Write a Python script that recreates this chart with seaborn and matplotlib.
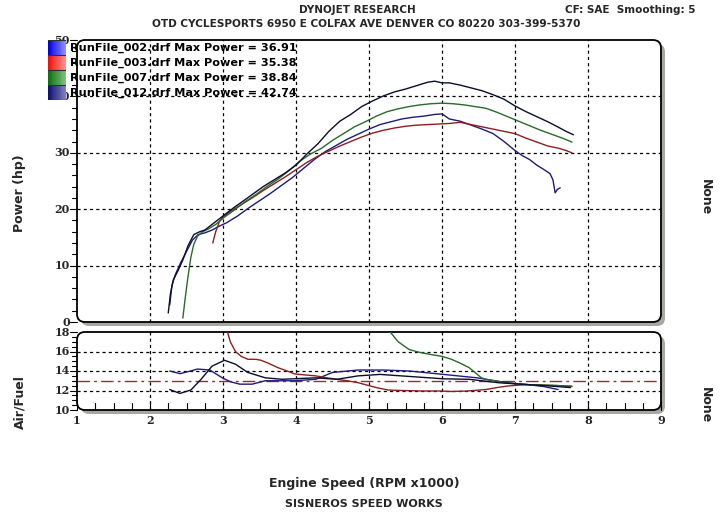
import numpy as np
import pandas as pd
import matplotlib
matplotlib.use("Agg")
import matplotlib.pyplot as plt
import seaborn as sns
from matplotlib.patches import FancyBboxPatch

# ---------------- data ----------------
run_names = ["RunFile_002.drf", "RunFile_003.drf", "RunFile_007.drf", "RunFile_012.drf"]
max_power = [36.91, 35.38, 38.84, 42.74]

rpm_002 = [2.27, 2.30, 2.35, 2.42, 2.50, 2.58, 2.66, 2.75, 2.85, 2.95, 3.05, 3.20, 3.35, 3.50,
           3.65, 3.80, 3.95, 4.10, 4.25, 4.40, 4.55, 4.70, 4.85, 5.00, 5.15, 5.30, 5.45, 5.60,
           5.75, 5.90, 6.00, 6.10, 6.25, 6.40, 6.55, 6.70, 6.85, 7.00, 7.10, 7.20, 7.30, 7.40,
           7.48, 7.52, 7.55, 7.58, 7.62]
hp_002 = [3.0, 6.5, 8.5, 10.5, 12.5, 14.5, 15.5, 15.8, 16.3, 17.0, 17.6, 18.8, 20.2, 21.5,
          22.8, 24.2, 25.6, 27.2, 28.8, 30.2, 31.3, 32.4, 33.3, 34.2, 35.0, 35.5, 36.0, 36.3,
          36.5, 36.8, 36.9, 36.0, 35.6, 34.9, 34.2, 33.4, 32.0, 30.4, 29.5, 28.8, 27.8, 27.0,
          26.3, 25.2, 22.9, 23.5, 23.8]

rpm_003 = [2.86, 2.90, 2.95, 3.00, 3.10, 3.25, 3.40, 3.55, 3.70, 3.85, 4.00, 4.15, 4.30, 4.45,
           4.60, 4.75, 4.90, 5.05, 5.20, 5.35, 5.50, 5.65, 5.80, 5.95, 6.10, 6.25, 6.40, 6.55,
           6.70, 6.85, 7.00, 7.15, 7.30, 7.45, 7.60, 7.70, 7.78]
hp_003 = [14.0, 16.0, 17.8, 18.6, 19.6, 20.8, 22.0, 23.3, 24.5, 25.7, 27.0, 28.3, 29.4, 30.3,
          31.2, 32.0, 32.8, 33.5, 34.0, 34.4, 34.7, 34.9, 35.0, 35.1, 35.2, 35.4, 35.0, 34.6,
          34.2, 33.8, 33.4, 32.6, 31.9, 31.2, 30.8, 30.4, 30.0]

rpm_007 = [2.45, 2.48, 2.52, 2.56, 2.60, 2.65, 2.72, 2.80, 2.90, 3.00, 3.15, 3.30, 3.45, 3.60,
           3.75, 3.90, 4.05, 4.20, 4.35, 4.50, 4.65, 4.80, 4.95, 5.10, 5.25, 5.40, 5.55, 5.70,
           5.85, 6.00, 6.15, 6.30, 6.45, 6.60, 6.75, 6.90, 7.05, 7.20, 7.35, 7.50, 7.65, 7.78]
hp_007 = [0.7, 4.0, 8.0, 11.5, 13.8, 15.2, 16.0, 16.5, 17.3, 18.4, 19.8, 21.3, 22.6, 24.0,
          25.3, 26.8, 28.5, 29.8, 30.8, 32.2, 33.4, 34.6, 35.5, 36.5, 37.3, 37.8, 38.2, 38.5,
          38.7, 38.8, 38.7, 38.5, 38.2, 37.9, 37.2, 36.4, 35.6, 34.8, 34.0, 33.3, 32.6, 31.9]

rpm_012 = [2.25, 2.28, 2.32, 2.38, 2.45, 2.52, 2.60, 2.68, 2.75, 2.85, 2.95, 3.05, 3.15, 3.25,
           3.40, 3.55, 3.70, 3.85, 4.00, 4.15, 4.30, 4.45, 4.60, 4.75, 4.90, 5.05, 5.20, 5.35,
           5.50, 5.65, 5.80, 5.90, 6.00, 6.10, 6.25, 6.40, 6.55, 6.70, 6.85, 7.00, 7.15, 7.30,
           7.45, 7.60, 7.70, 7.80]
hp_012 = [1.6, 5.0, 7.5, 9.0, 11.0, 13.5, 15.5, 16.0, 16.3, 17.3, 18.3, 19.3, 20.3, 21.2,
          22.6, 24.0, 25.2, 26.4, 27.8, 29.8, 31.6, 33.8, 35.6, 36.8, 38.2, 39.2, 40.1, 40.8,
          41.3, 41.9, 42.5, 42.7, 42.4, 42.4, 42.0, 41.5, 41.0, 40.3, 39.5, 38.3, 37.3, 36.4,
          35.5, 34.5, 33.8, 33.2]

afr_rpm_002 = [2.27, 2.41, 2.53, 2.65, 2.82, 2.99, 3.10, 3.23, 3.40, 3.58, 3.98, 4.27, 4.50,
               4.85, 5.20, 5.55, 6.02, 6.48, 6.72, 6.95, 7.18, 7.40, 7.59]
afr_002 = [14.0, 13.73, 13.95, 14.2, 14.1, 13.3, 12.9, 12.65, 12.65, 13.0, 13.0, 13.15, 13.85,
           14.1, 14.1, 14.0, 13.65, 13.3, 13.0, 12.75, 12.6, 12.4, 12.1]

afr_rpm_003 = [2.86, 2.95, 3.05, 3.10, 3.17, 3.25, 3.34, 3.45, 3.52, 3.62, 3.75, 3.88, 3.98,
               4.12, 4.27, 4.42, 4.56, 4.70, 4.85, 5.00, 5.10, 5.26, 5.45, 5.73, 5.95, 6.13,
               6.35, 6.60, 6.75, 6.89, 7.05, 7.18, 7.40, 7.60, 7.78]
afr_003 = [24.0, 21.0, 18.3, 17.0, 16.0, 15.5, 15.2, 15.2, 15.1, 14.8, 14.35, 14.0, 13.7,
           13.6, 13.5, 13.3, 13.15, 13.0, 12.8, 12.5, 12.3, 12.05, 12.0, 11.95, 11.95, 11.9,
           11.95, 12.1, 12.3, 12.45, 12.55, 12.6, 12.55, 12.5, 12.4]

afr_rpm_007 = [2.45, 3.00, 4.00, 5.00, 5.29, 5.40, 5.55, 5.70, 5.84, 6.00, 6.13, 6.25, 6.37,
               6.46, 6.54, 6.63, 6.72, 6.85, 7.00, 7.18, 7.40, 7.60, 7.78]
afr_007 = [24.0, 23.0, 21.5, 19.5, 18.0, 17.0, 16.2, 15.9, 15.7, 15.5, 15.2, 14.8, 14.35,
           13.8, 13.3, 13.1, 13.0, 12.8, 12.7, 12.6, 12.55, 12.5, 12.45]

afr_rpm_012 = [2.27, 2.41, 2.56, 2.70, 2.85, 3.02, 3.17, 3.34, 3.58, 3.81, 4.27, 4.56, 4.85,
               5.15, 5.44, 6.02, 6.37, 6.77, 7.18, 7.50, 7.76]
afr_012 = [12.1, 11.7, 12.05, 13.15, 14.5, 15.1, 14.7, 13.85, 13.3, 13.15, 13.3, 13.15, 13.5,
           13.65, 13.5, 13.2, 13.15, 12.8, 12.6, 12.45, 12.3]

afr_target = 13.0

x_ticks = [1, 2, 3, 4, 5, 6, 7, 8, 9]
power_ticks = [0, 10, 20, 30, 40, 50]
afr_ticks = [10, 12, 14, 16, 18]

line_colors = ["#1c1c78", "#8c1f1f", "#2a6a2a", "#0c0c30"]
swatch_left = ["#0000e0", "#f01010", "#107010", "#101070"]
swatch_right = ["#9090ff", "#ff9090", "#80c080", "#8080c0"]

# ---------------- build tables ----------------
power_df = pd.concat([
    pd.DataFrame({"rpm": r, "hp": h, "run": n})
    for r, h, n in zip([rpm_002, rpm_003, rpm_007, rpm_012],
                       [hp_002, hp_003, hp_007, hp_012], run_names)
], ignore_index=True)
afr_df = pd.concat([
    pd.DataFrame({"rpm": r, "afr": a, "run": n})
    for r, a, n in zip([afr_rpm_002, afr_rpm_003, afr_rpm_007, afr_rpm_012],
                       [afr_002, afr_003, afr_007, afr_012], run_names)
], ignore_index=True)
palette = dict(zip(run_names, line_colors))

# ---------------- figure ----------------
sns.set_style("white")
plt.rcParams["font.family"] = ["DejaVu Sans"]

W, H = 727, 517
fig = plt.figure(figsize=(W / 100, H / 100), dpi=100)
fig.patch.set_facecolor("white")


def fx(px):
    return px / W


def fy(py):
    return 1 - py / H


L, R = 77, 661
T1, B1 = 40, 322
T2, B2 = 332, 410

ax1 = fig.add_axes([fx(L), fy(B1), (R - L) / W, (B1 - T1) / H])
ax2 = fig.add_axes([fx(L), fy(B2), (R - L) / W, (B2 - T2) / H])

# rounded boxes with grey shadow (in inches so corners stay round)
for (t, b) in [(T1, B1), (T2, B2)]:
    x0, y0 = L / 100, (H - b) / 100
    w, h = (R - L) / 100, (b - t) / 100
    shadow = FancyBboxPatch((x0 + 0.04, y0 - 0.04), w, h,
                            boxstyle="round,pad=0,rounding_size=0.08",
                            transform=fig.dpi_scale_trans, facecolor="#a8a8a0",
                            edgecolor="none", zorder=-3)
    box = FancyBboxPatch((x0, y0), w, h,
                         boxstyle="round,pad=0,rounding_size=0.08",
                         transform=fig.dpi_scale_trans, facecolor="white",
                         edgecolor="black", linewidth=1.3, zorder=-2)
    fig.patches.extend([shadow, box])

for ax in (ax1, ax2):
    ax.set_facecolor("none")
    for s in ax.spines.values():
        s.set_visible(False)
    ax.set_xlim(1, 9)
    ax.set_xticks(x_ticks[1:-1])
    ax.grid(True, color="black", linestyle=(0, (2.5, 2.5)), linewidth=0.9)

sns.lineplot(data=power_df, x="rpm", y="hp", hue="run", palette=palette, sort=False,
             estimator=None, linewidth=1.0, legend=False, ax=ax1)
sns.lineplot(data=afr_df, x="rpm", y="afr", hue="run", palette=palette, sort=False,
             estimator=None, linewidth=1.0, legend=False, ax=ax2)
ax2.axhline(afr_target, color="#7a3a3a", linestyle=(0, (9, 3, 2, 3)), linewidth=1.0, zorder=1)

ax1.set_ylim(0, 50)
ax1.set_yticks(power_ticks[1:-1])
ax1.set_xticklabels([])
ax1.set_yticklabels([])
ax1.tick_params(axis="both", length=0)
ax1.set_xlabel("")
ax1.set_ylabel("")

ax2.set_ylim(10, 18)
ax2.set_yticks(afr_ticks[1:-1])
ax2.set_yticklabels([])
ax2.set_xticklabels([])
ax2.tick_params(axis="both", length=0)
ax2.set_xlabel("")
ax2.set_ylabel("")

# tick labels (serif bold, like the bitmap font)
tick_font = dict(family="DejaVu Serif", weight="bold", size=8)
for v in power_ticks:
    ax1.text(-0.012, v, str(v), transform=ax1.get_yaxis_transform(), ha="right",
             va="center", clip_on=False, **tick_font)
for v in afr_ticks:
    ax2.text(-0.012, v, str(v), transform=ax2.get_yaxis_transform(), ha="right",
             va="center", clip_on=False, **tick_font)
for v in x_ticks:
    ax2.text(v, -0.07, str(v), transform=ax2.get_xaxis_transform(), ha="center",
             va="top", clip_on=False, **tick_font)

# small outward ticks on left and inward ticks on bottom
for v in np.arange(0, 50.01, 2):
    ax1.plot([-0.008 if v % 10 else -0.012, 0], [v, v], transform=ax1.get_yaxis_transform(),
             color="black", lw=0.8, clip_on=False)
for v in np.arange(10, 18.01, 0.5):
    ax2.plot([-0.008 if v % 2 else -0.012, 0], [v, v], transform=ax2.get_yaxis_transform(),
             color="black", lw=0.8, clip_on=False)
for v in np.arange(1, 9.01, 0.25):
    ax2.plot([v, v], [0, 0.09 if v % 1 else 0.12], transform=ax2.get_xaxis_transform(),
             color="black", lw=0.8, clip_on=False)

# legend swatches + text
sw = fig.add_axes([fx(48), fy(100), 18 / W, 60 / H])
grad = np.zeros((4, 20, 3))
for i in range(4):
    c0 = np.array(matplotlib.colors.to_rgb(swatch_left[i]))
    c1 = np.array(matplotlib.colors.to_rgb(swatch_right[i]))
    for j in range(20):
        t = j / 19
        grad[i, j] = c0 * (1 - t) + c1 * t
sw.imshow(grad, aspect="auto", interpolation="nearest", extent=(0, 1, 4, 0))
for i in range(5):
    sw.axhline(i, color="#303030", lw=0.8)
sw.set_axis_off()
sw.set_zorder(5)

for i, (n, p) in enumerate(zip(run_names, max_power)):
    fig.text(fx(70), fy(48 + 15 * i), f"{n} Max Power = {p:.2f}", ha="left", va="center",
             fontsize=8.1, fontweight="bold", color="black", zorder=6)

# titles and labels
fig.text(fx(357), fy(10), "DYNOJET RESEARCH", ha="center", va="center",
         fontsize=7.5, fontweight="bold")
fig.text(fx(630), fy(10), "CF: SAE  Smoothing: 5", ha="center", va="center",
         fontsize=7.5, fontweight="bold")
fig.text(fx(366), fy(24), "OTD CYCLESPORTS 6950 E COLFAX AVE DENVER CO 80220 303-399-5370",
         ha="center", va="center", fontsize=7.6, fontweight="bold")
fig.text(fx(20), fy(193), "Power (hp)", rotation=90, ha="center", va="center",
         fontsize=9, fontweight="bold")
fig.text(fx(20), fy(402), "Air/Fuel", rotation=90, ha="center", va="center",
         fontsize=9, fontweight="bold")
fig.text(fx(705), fy(197), "None", rotation=-90, ha="center", va="center",
         fontsize=9, fontweight="bold")
fig.text(fx(705), fy(405), "None", rotation=-90, ha="center", va="center",
         fontsize=9, fontweight="bold")
fig.text(fx(364), fy(483), "Engine Speed (RPM x1000)", ha="center", va="center",
         fontsize=9, fontweight="bold")
fig.text(fx(364), fy(504), "SISNEROS SPEED WORKS", ha="center", va="center",
         fontsize=8, fontweight="bold")

fig.savefig("out.png", dpi=100, facecolor="white")
